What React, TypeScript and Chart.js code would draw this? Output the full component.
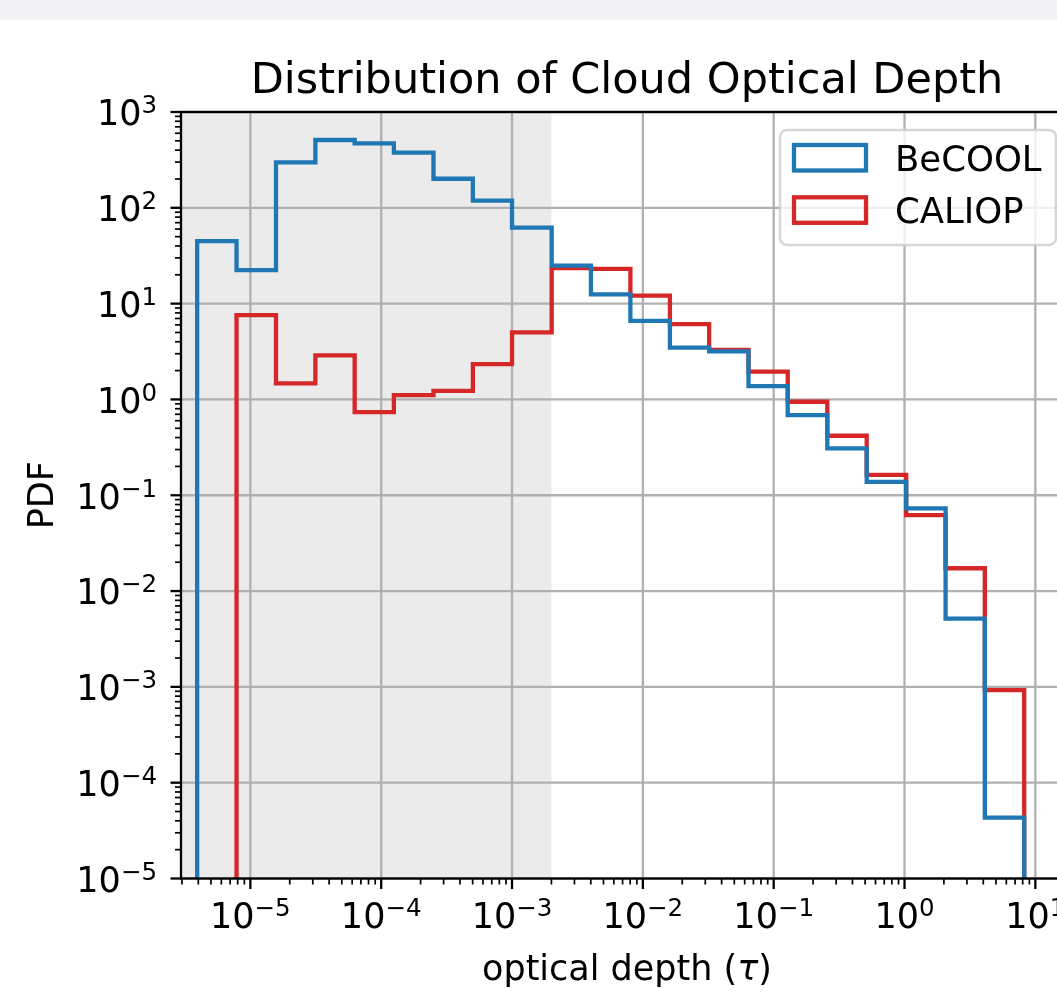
import React, { useEffect, useRef } from "react";
import { Chart, registerables } from "chart.js";

Chart.register(...registerables);

// ---------------- data ----------------
const binEdges = [
  3.92e-6, 7.84e-6, 1.57e-5, 3.14e-5, 6.27e-5, 1.25e-4, 2.51e-4, 5.02e-4,
  1.0e-3, 2.01e-3, 4.01e-3, 8.03e-3, 1.61e-2, 3.21e-2, 6.42e-2, 0.128,
  0.257, 0.514, 1.03, 2.06, 4.11, 8.22,
];
const becoolPdf = [
  45.0, 22.4, 298, 510, 471, 376, 201, 119, 62, 24.9, 12.5, 6.6, 3.47, 3.18,
  1.38, 0.687, 0.308, 0.138, 0.073, 0.00516, 4.31e-5,
];
const caliopPdf = [
  0, 7.6, 1.47, 2.88, 0.738, 1.11, 1.23, 2.34, 5.0, 23.5, 23.1, 12.1, 6.12,
  3.28, 1.95, 0.946, 0.418, 0.163, 0.0621, 0.0173, 0.000927,
];
const seriesNames = ["BeCOOL", "CALIOP"];
const seriesColors = ["#1f77b4", "#d62728"];
const xMajorTicks = [1e-5, 1e-4, 1e-3, 1e-2, 1e-1, 1, 10];
const yMajorTicks = [1e-5, 1e-4, 1e-3, 1e-2, 1e-1, 1, 10, 100, 1000];
const shadedUpper = 2.0e-3;
const xLimits = [2.95e-6, 19.4];
const yLimits = [1e-5, 1e3];
const titleText = "Distribution of Cloud Optical Depth";
const yLabelText = "PDF";

// ---------------- layout ----------------
const CANVAS_W = 1100;
const CANVAS_H = 1000;
const AX_LEFT = 181;
const AX_TOP = 112;
const AX_RIGHT = 1073;
const AX_BOTTOM = 878.5;
const FONT = '"DejaVu Sans", sans-serif';
const TICK_FS = 35;
const SUP_FS = 24.5;
const FLOOR = 1e-8;

function stepPoints(edges: number[], vals: number[]) {
  const pts: { x: number; y: number }[] = [];
  let started = false;
  for (let i = 0; i < vals.length; i++) {
    if (!started && !(vals[i] > 0)) continue;
    if (!started) {
      pts.push({ x: edges[i], y: FLOOR });
      started = true;
    }
    const v = vals[i] > 0 ? vals[i] : FLOOR;
    pts.push({ x: edges[i], y: v });
    pts.push({ x: edges[i + 1], y: v });
  }
  pts.push({ x: edges[vals.length], y: FLOOR });
  return pts;
}

function expText(v: number) {
  const e = Math.round(Math.log10(v));
  return String(e).replace("-", "\u2212");
}

function drawPow(
  ctx: CanvasRenderingContext2D,
  v: number,
  x: number,
  y: number,
  align: "center" | "right"
) {
  const base = "10";
  const ex = expText(v);
  ctx.font = `${TICK_FS}px ${FONT}`;
  const wb = ctx.measureText(base).width;
  ctx.font = `${SUP_FS}px ${FONT}`;
  const we = ctx.measureText(ex).width;
  const total = wb + we;
  const x0 = align === "center" ? x - total / 2 : x - total;
  ctx.textAlign = "left";
  ctx.textBaseline = "alphabetic";
  ctx.font = `${TICK_FS}px ${FONT}`;
  ctx.fillText(base, x0, y);
  ctx.font = `${SUP_FS}px ${FONT}`;
  ctx.fillText(ex, x0 + wb, y - 12);
}

const mplPlugin = {
  id: "mplLook",
  beforeDatasetsDraw(chart: any) {
    const { ctx, chartArea: a, scales } = chart;
    const xs = scales.x;
    const ys = scales.y;
    ctx.save();
    // shaded span
    const sx = xs.getPixelForValue(shadedUpper);
    ctx.fillStyle = "#ebebeb";
    ctx.fillRect(a.left, a.top, sx - a.left, a.bottom - a.top);
    // grid
    ctx.strokeStyle = "#b0b0b0";
    ctx.lineWidth = 2.3;
    for (const v of xMajorTicks) {
      const p = xs.getPixelForValue(v);
      if (p < a.left - 0.5 || p > a.right + 0.5) continue;
      ctx.beginPath();
      ctx.moveTo(p, a.top);
      ctx.lineTo(p, a.bottom);
      ctx.stroke();
    }
    for (const v of yMajorTicks) {
      const p = ys.getPixelForValue(v);
      if (p < a.top - 0.5 || p > a.bottom + 0.5) continue;
      ctx.beginPath();
      ctx.moveTo(a.left, p);
      ctx.lineTo(a.right, p);
      ctx.stroke();
    }
    ctx.restore();
  },
  afterDraw(chart: any) {
    const { ctx, chartArea: a, scales } = chart;
    const xs = scales.x;
    const ys = scales.y;
    ctx.save();
    ctx.fillStyle = "#000";
    ctx.strokeStyle = "#000";

    // ticks
    const [xmin, xmax] = xLimits;
    for (const d of [1e-6, ...xMajorTicks]) {
      for (let m = 1; m <= 9; m++) {
        const v = m * d;
        if (v < xmin * 0.999 || v > xmax) continue;
        const p = xs.getPixelForValue(v);
        const major = m === 1;
        ctx.lineWidth = major ? 2.3 : 1.7;
        ctx.beginPath();
        ctx.moveTo(p, a.bottom);
        ctx.lineTo(p, a.bottom + (major ? 10.5 : 6));
        ctx.stroke();
      }
    }
    for (const d of yMajorTicks) {
      for (let m = 1; m <= 9; m++) {
        const v = m * d;
        if (v < yLimits[0] || v > yLimits[1] * 1.0001) continue;
        const p = ys.getPixelForValue(v);
        const major = m === 1;
        ctx.lineWidth = major ? 2.3 : 1.7;
        ctx.beginPath();
        ctx.moveTo(a.left, p);
        ctx.lineTo(a.left - (major ? 10.5 : 6), p);
        ctx.stroke();
      }
    }

    // spines
    ctx.lineWidth = 2.3;
    ctx.lineJoin = "miter";
    ctx.strokeRect(a.left, a.top, a.right - a.left, a.bottom - a.top);

    // tick labels
    for (const v of xMajorTicks) {
      const p = xs.getPixelForValue(v);
      drawPow(ctx, v, p, 928, "center");
    }
    for (const v of yMajorTicks) {
      const p = ys.getPixelForValue(v);
      drawPow(ctx, v, 157, p + 13.3, "right");
    }

    // title
    ctx.font = `43px ${FONT}`;
    ctx.textAlign = "center";
    ctx.textBaseline = "alphabetic";
    const cx = (a.left + a.right) / 2;
    ctx.fillText(titleText, cx, 93);

    // x label with italic tau
    const parts: [string, string][] = [
      ["optical depth (", `35px ${FONT}`],
      ["\u03c4", `italic 35px ${FONT}`],
      [")", `35px ${FONT}`],
    ];
    let tw = 0;
    for (const [t, f] of parts) {
      ctx.font = f;
      tw += ctx.measureText(t).width;
    }
    let tx = cx - tw / 2;
    ctx.textAlign = "left";
    for (const [t, f] of parts) {
      ctx.font = f;
      ctx.fillText(t, tx, 980);
      tx += ctx.measureText(t).width;
    }

    // y label
    ctx.save();
    ctx.translate(53, (a.top + a.bottom) / 2);
    ctx.rotate(-Math.PI / 2);
    ctx.font = `35px ${FONT}`;
    ctx.textAlign = "center";
    ctx.fillText(yLabelText, 0, 0);
    ctx.restore();

    // legend
    const lx = 780, ly = 130, lw = 276, lh = 115;
    ctx.beginPath();
    ctx.roundRect(lx, ly, lw, lh, 7);
    ctx.fillStyle = "rgba(255,255,255,0.8)";
    ctx.fill();
    ctx.lineWidth = 2.5;
    ctx.strokeStyle = "rgba(204,204,204,0.8)";
    ctx.stroke();
    chart.data.datasets.forEach((ds: any, i: number) => {
      const ry = 145 + i * 52.3;
      ctx.lineWidth = 4.3;
      ctx.strokeStyle = ds.borderColor;
      ctx.lineJoin = "miter";
      ctx.strokeRect(794, ry, 72, 25.5);
      ctx.fillStyle = "#000";
      ctx.font = `35.5px ${FONT}`;
      ctx.textAlign = "left";
      ctx.fillText(ds.label, 895, 171 + i * 52);
    });
    ctx.restore();
  },
};

export default function App() {
  const ref = useRef<HTMLCanvasElement>(null);
  useEffect(() => {
    const canvas = ref.current!;
    const datasets = [becoolPdf, caliopPdf].map((vals, i) => ({
      label: seriesNames[i],
      data: stepPoints(binEdges, vals),
      borderColor: seriesColors[i],
      backgroundColor: seriesColors[i],
      borderWidth: 4.3,
      borderJoinStyle: "miter" as const,
      pointRadius: 0,
      fill: false,
      tension: 0,
    }));
    const chart = new Chart(canvas, {
      type: "line",
      data: { datasets },
      options: {
        responsive: false,
        animation: false,
        devicePixelRatio: 1,
        events: [],
        layout: {
          padding: {
            left: AX_LEFT,
            top: AX_TOP,
            right: CANVAS_W - AX_RIGHT,
            bottom: CANVAS_H - AX_BOTTOM,
          },
        },
        plugins: {
          legend: { display: false },
          title: { display: false },
          tooltip: { enabled: false },
        },
        scales: {
          x: {
            type: "logarithmic",
            min: xLimits[0],
            max: xLimits[1],
            bounds: "data",
            display: false,
          },
          y: {
            type: "logarithmic",
            min: yLimits[0],
            max: yLimits[1],
            bounds: "data",
            display: false,
          },
        },
      },
      plugins: [mplPlugin],
    });
    return () => chart.destroy();
  }, []);
  return (
    <div
      style={{
        position: "fixed",
        left: 0,
        top: 0,
        width: 1057,
        height: 1000,
        overflow: "hidden",
        background: "#fff",
      }}
    >
      <div
        style={{
          position: "absolute",
          left: 0,
          top: 0,
          width: "100%",
          height: 20,
          background: "#f3f3f5",
        }}
      />
      <canvas
        ref={ref}
        width={CANVAS_W}
        height={CANVAS_H}
        style={{ position: "absolute", left: 0, top: 0, width: CANVAS_W, height: CANVAS_H }}
      />
    </div>
  );
}
